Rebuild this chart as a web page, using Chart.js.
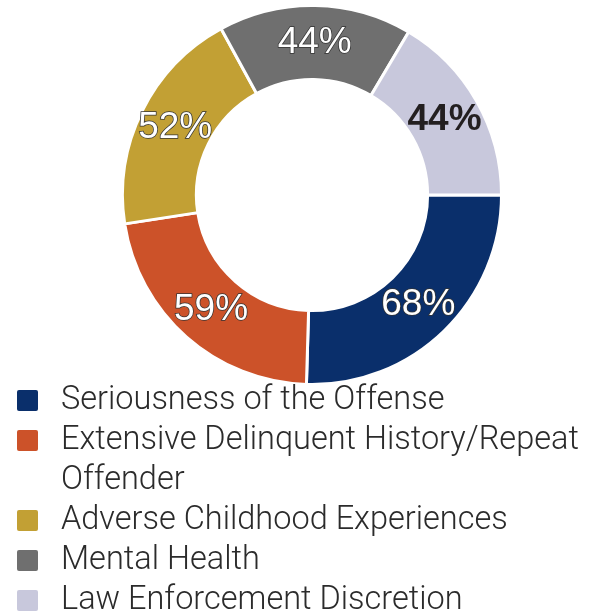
<!DOCTYPE html>
<html>
<head>
<meta charset="utf-8">
<script src="https://cdn.jsdelivr.net/npm/chart.js@4/dist/chart.umd.min.js"></script>
<style>
  html, body { margin: 0; padding: 0; background: #fff; }
  #wrap { width: 602px; height: 613px; }
</style>
</head>
<body>
<div id="wrap"><canvas id="reasonsChart" width="602" height="613"></canvas></div>
<script>
const labels = [
  'Seriousness of the Offense',
  ['Extensive Delinquent History/Repeat', 'Offender'],
  'Adverse Childhood Experiences',
  'Mental Health',
  'Law Enforcement Discretion'
];
const percents = [68, 59, 52, 44, 44];
const colors = ['#0a2f6b', '#cc5229', '#c2a034', '#6f6f6f', '#c8c8dc'];

// percentage text inside each slice
const sliceLabels = {
  id: 'sliceLabels',
  afterDatasetsDraw(chart) {
    const ctx = chart.ctx;
    const meta = chart.getDatasetMeta(0);
    ctx.save();
    ctx.textAlign = 'center';
    ctx.textBaseline = 'middle';
    meta.data.forEach((arc, i) => {
      const p = arc.tooltipPosition();
      const txt = percents[i] + '%';
      if (i === percents.length - 1) {
        ctx.font = 'bold 37px "Liberation Sans"';
        ctx.fillStyle = '#231f20';
        ctx.fillText(txt, p.x, p.y);
      } else {
        ctx.font = '37px "Liberation Sans"';
        ctx.lineWidth = 1.5;
        ctx.strokeStyle = '#333';
        ctx.strokeText(txt, p.x, p.y);
        ctx.fillStyle = '#fff';
        ctx.fillText(txt, p.x, p.y);
      }
    });
    ctx.restore();
  }
};

// legend list under the ring
const listLegend = {
  id: 'listLegend',
  afterDraw(chart) {
    const ctx = chart.ctx;
    const lineH = 40;
    let y = 401;
    ctx.save();
    ctx.font = '300 32.5px Roboto';
    ctx.textBaseline = 'middle';
    ctx.textAlign = 'left';
    labels.forEach((lab, i) => {
      ctx.fillStyle = colors[i];
      ctx.beginPath();
      ctx.roundRect(17, y - 11, 21, 21, 2);
      ctx.fill();
      ctx.fillStyle = '#2b2b2b';
      const lines = Array.isArray(lab) ? lab : [lab];
      lines.forEach(line => {
        ctx.fillText(line, 61, y);
        y += lineH;
      });
    });
    ctx.restore();
  }
};

new Chart(document.getElementById('reasonsChart'), {
  type: 'doughnut',
  data: {
    labels: labels,
    datasets: [{
      data: percents,
      backgroundColor: colors,
      borderColor: '#fff',
      borderWidth: 3
    }]
  },
  options: {
    responsive: false,
    animation: false,
    rotation: 90,
    cutout: '61%',
    layout: { padding: { top: 4, left: 22, right: 0, bottom: 227 } },
    plugins: {
      legend: { display: false },
      tooltip: { enabled: false }
    }
  },
  plugins: [sliceLabels, listLegend]
});
</script>
</body>
</html>
